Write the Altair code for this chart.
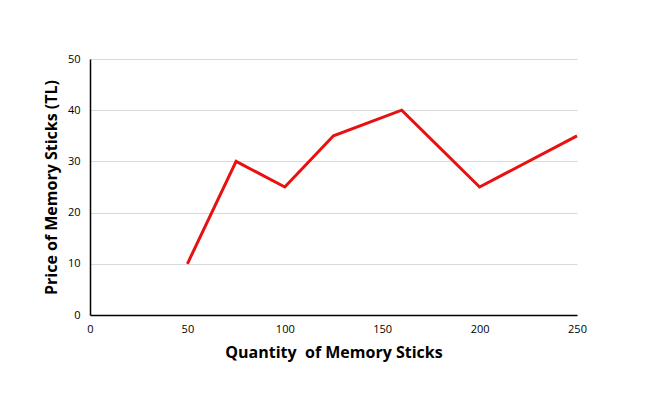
import altair as alt
import pandas as pd

quantity = [50, 75, 100, 125, 160, 200, 250]
price = [10, 30, 25, 35, 40, 25, 35]

df = pd.DataFrame({"q": quantity, "p": price})

chart = alt.Chart(df).mark_line(color="#E81010", strokeWidth=3).encode(
    x=alt.X("q:Q", title="Quantity\u00a0 of Memory Sticks",
            scale=alt.Scale(domain=[0, 250], nice=False),
            axis=alt.Axis(values=[0, 50, 100, 150, 200, 250], grid=False, ticks=False,
                          labelFlush=False,
                          domainColor="black", domainWidth=1.5, labelPadding=8,
                          labelFontSize=11, labelColor="black", labelFont="Open Sans",
                          titleFont="Open Sans", titleFontSize=16, titleFontWeight="bold",
                          titleColor="black", titlePadding=10)),
    y=alt.Y("p:Q", title="Price of Memory Sticks (TL)",
            scale=alt.Scale(domain=[0, 50], nice=False),
            axis=alt.Axis(values=[0, 10, 20, 30, 40, 50], grid=True, gridColor="#d9d9d9",
                          ticks=False, domainColor="black", domainWidth=1.5, labelPadding=10,
                          labelFontSize=11, labelColor="black", labelFont="Open Sans",
                          titleFont="Open Sans", titleFontSize=16, titleFontWeight="bold",
                          titleColor="black", titlePadding=8)),
).properties(
    width=487, height=256,
    background="white",
    autosize=alt.AutoSizeParams(type="none"),
    padding={"left": 82, "top": 51, "right": 72, "bottom": 88},
).configure_view(stroke="transparent", strokeWidth=0)

chart.save("out.html", embed_options={"renderer": "svg", "actions": False})
